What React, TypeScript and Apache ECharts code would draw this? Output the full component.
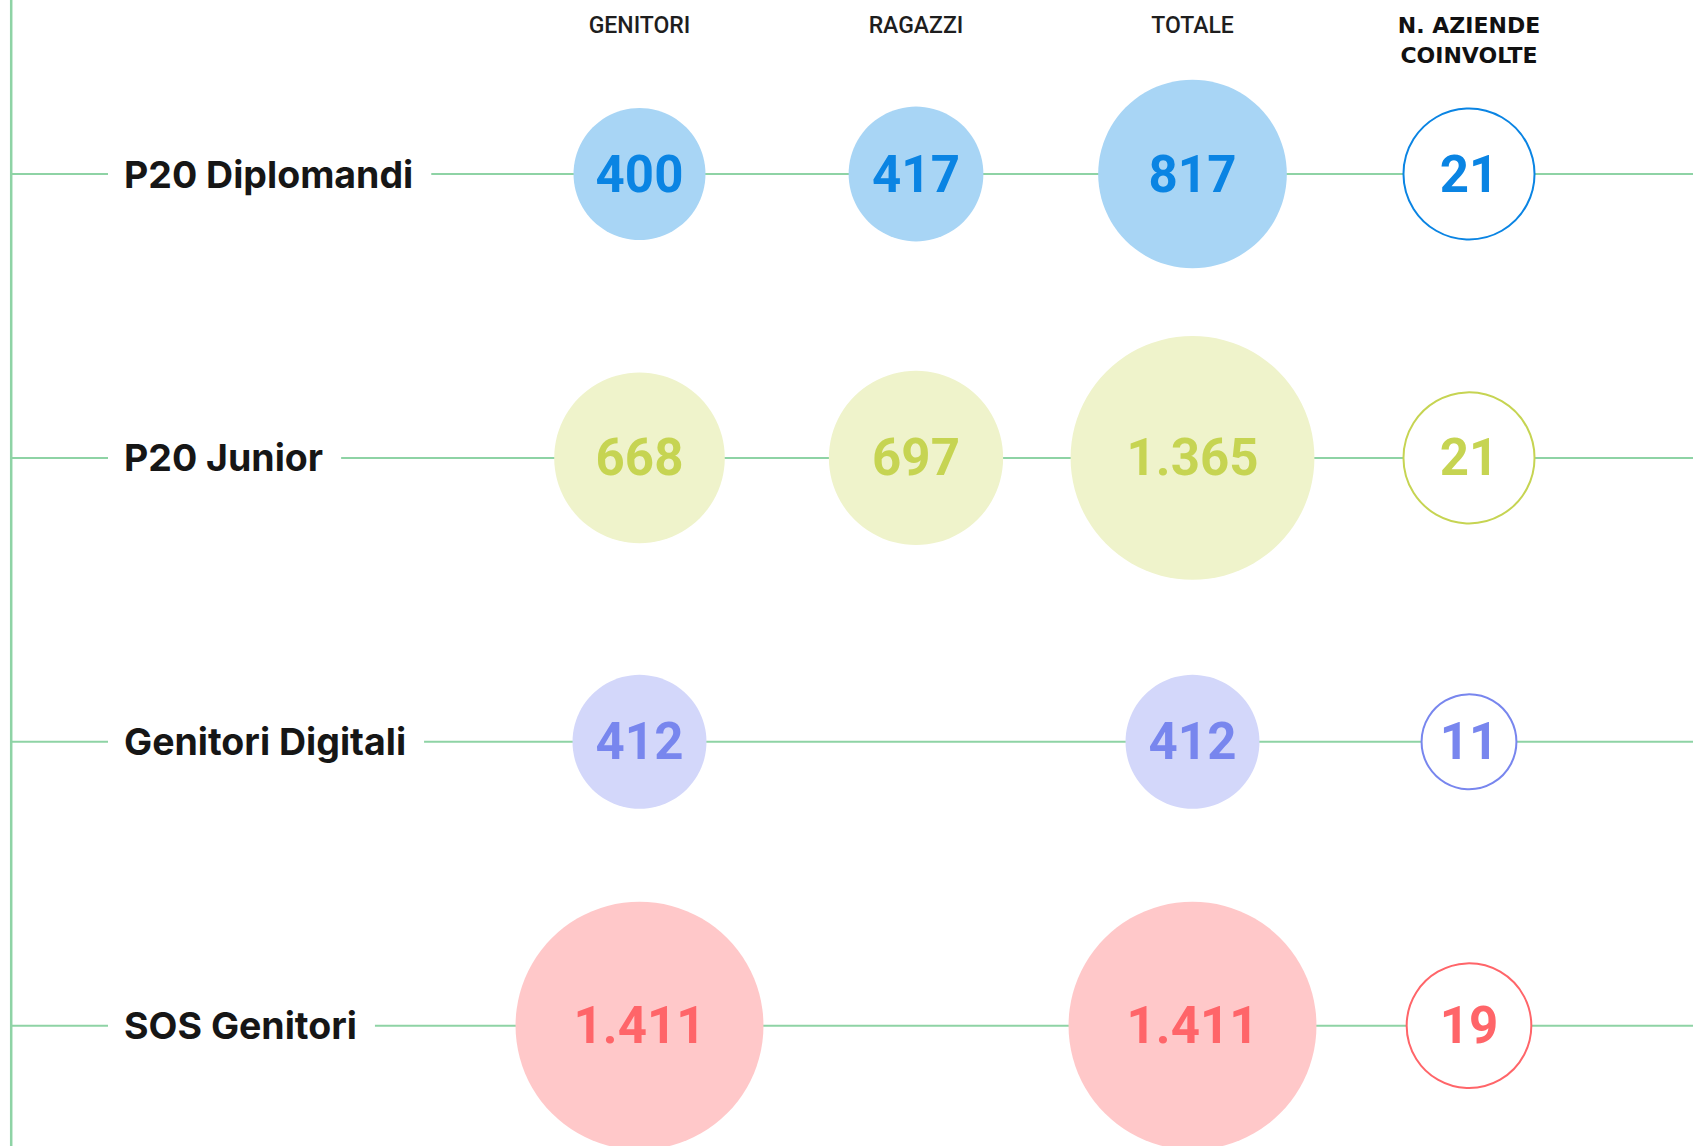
import React, { useEffect, useRef } from "react";
import * as echarts from "echarts";

// ---- data ----
const programs = ["P20 Diplomandi", "P20 Junior", "Genitori Digitali", "SOS Genitori"];
const columns = ["GENITORI", "RAGAZZI", "TOTALE", "N. AZIENDE\nCOINVOLTE"];
const genitori: (number | null)[] = [400, 668, 412, 1411];
const ragazzi: (number | null)[] = [417, 697, null, null];
const totale: (number | null)[] = [817, 1365, 412, 1411];
const aziende: number[] = [21, 21, 11, 19];

// ---- style ----
const fillColors = ["#A8D5F5", "#EFF3CB", "#D3D7FA", "#FFC8C9"];
const textColors = ["#0A84E3", "#C6D452", "#7886EE", "#FF6569"];
const LINE_COLOR = "#8ED3A5";

// ---- layout ----
const W = 1693;
const H = 1146;
const COL_X0 = 639.5;
const COL_DX = 276.5;
const ROW_Y0 = 174;
const ROW_DY = 283.9;
const xMin = -COL_X0 / COL_DX;
const xMax = (W - COL_X0) / COL_DX;
const yMin = -ROW_Y0 / ROW_DY;
const yMax = (H - ROW_Y0) / ROW_DY;
const px2x = (p: number) => (p - COL_X0) / COL_DX;
const px2y = (p: number) => (p - ROW_Y0) / ROW_DY;

const fmt = (v: number) => String(v).replace(/\B(?=(\d{3})+(?!\d))/g, ".");

export default function App() {
  const ref = useRef<HTMLDivElement>(null);

  useEffect(() => {
    if (!ref.current) return;
    const chart = echarts.init(ref.current, undefined, { renderer: "svg" });

    const valueCols = [genitori, ragazzi, totale];
    const filledData: any[] = [];
    valueCols.forEach((col, c) => {
      col.forEach((v, r) => {
        if (v == null) return;
        filledData.push({
          value: [c, r, v],
          itemStyle: { color: fillColors[r], opacity: 1 },
          label: { color: textColors[r] },
        });
      });
    });
    const ringData = aziende.map((v, r) => ({
      value: [3, r, v],
      itemStyle: { color: "#ffffff", borderColor: textColors[r], borderWidth: 2, opacity: 1 },
      label: { color: textColors[r] },
    }));

    const rowLines = programs.map((_, r) => ({
      type: "line",
      data: [
        [px2x(12), r],
        [xMax, r],
      ],
      symbol: "none",
      silent: true,
      z: 1,
      lineStyle: { color: LINE_COLOR, width: 2, opacity: 1 },
    }));

    const numLabel = {
      show: true,
      position: "inside",
      fontFamily: "Roboto",
      fontWeight: "bold",
      fontSize: 51,
      formatter: (p: any) => fmt(p.value[2]),
    };

    const option: any = {
      animation: false,
      backgroundColor: "#ffffff",
      grid: { left: 0, right: 0, top: 0, bottom: 0 },
      xAxis: { type: "value", min: xMin, max: xMax, show: false },
      yAxis: { type: "value", min: yMin, max: yMax, inverse: true, show: false },
      series: [
        {
          type: "line",
          data: [
            [px2x(11.2), yMin],
            [px2x(11.2), yMax],
          ],
          symbol: "none",
          silent: true,
          z: 1,
          lineStyle: { color: LINE_COLOR, width: 2.5, opacity: 1 },
        },
        ...rowLines,
        {
          type: "scatter",
          silent: true,
          z: 3,
          symbolSize: 0,
          itemStyle: { opacity: 1 },
          data: programs.map((_, r) => [px2x(108), r]),
          label: {
            show: true,
            position: "right",
            distance: 0,
            backgroundColor: "#ffffff",
            padding: [8, 18, 8, 16],
            fontFamily: "Inter",
            fontWeight: 700,
            fontSize: 37.5,
            color: "#161616",
            formatter: (p: any) => programs[p.dataIndex],
          },
        },
        {
          type: "scatter",
          silent: true,
          z: 3,
          symbolSize: 0,
          itemStyle: { opacity: 1 },
          data: columns.map((_, c) => ({
            value: [c, px2y(10.5)],
            label:
              c === 3
                ? { fontFamily: "DejaVu Sans", fontWeight: "bold", fontSize: 22, color: "#111111" }
                : {},
          })),
          label: {
            show: true,
            position: "inside",
            align: "center",
            verticalAlign: "top",
            fontFamily: "Roboto",
            fontWeight: 500,
            fontSize: 23,
            lineHeight: 30,
            color: "#1e1e1e",
            formatter: (p: any) => columns[p.dataIndex],
          },
        },
        {
          type: "scatter",
          z: 4,
          symbolSize: (val: number[]) => 6.6 * Math.sqrt(val[2]),
          itemStyle: { opacity: 1 },
          data: filledData,
          label: numLabel,
        },
        {
          type: "scatter",
          z: 4,
          symbolSize: (val: number[]) => 28.6 * Math.sqrt(val[2]),
          itemStyle: { opacity: 1 },
          data: ringData,
          label: numLabel,
        },
      ],
    };

    chart.setOption(option);
    return () => chart.dispose();
  }, []);

  return (
    <div
      ref={ref}
      style={{ position: "absolute", left: 0, top: 0, width: W, height: H }}
    />
  );
}
